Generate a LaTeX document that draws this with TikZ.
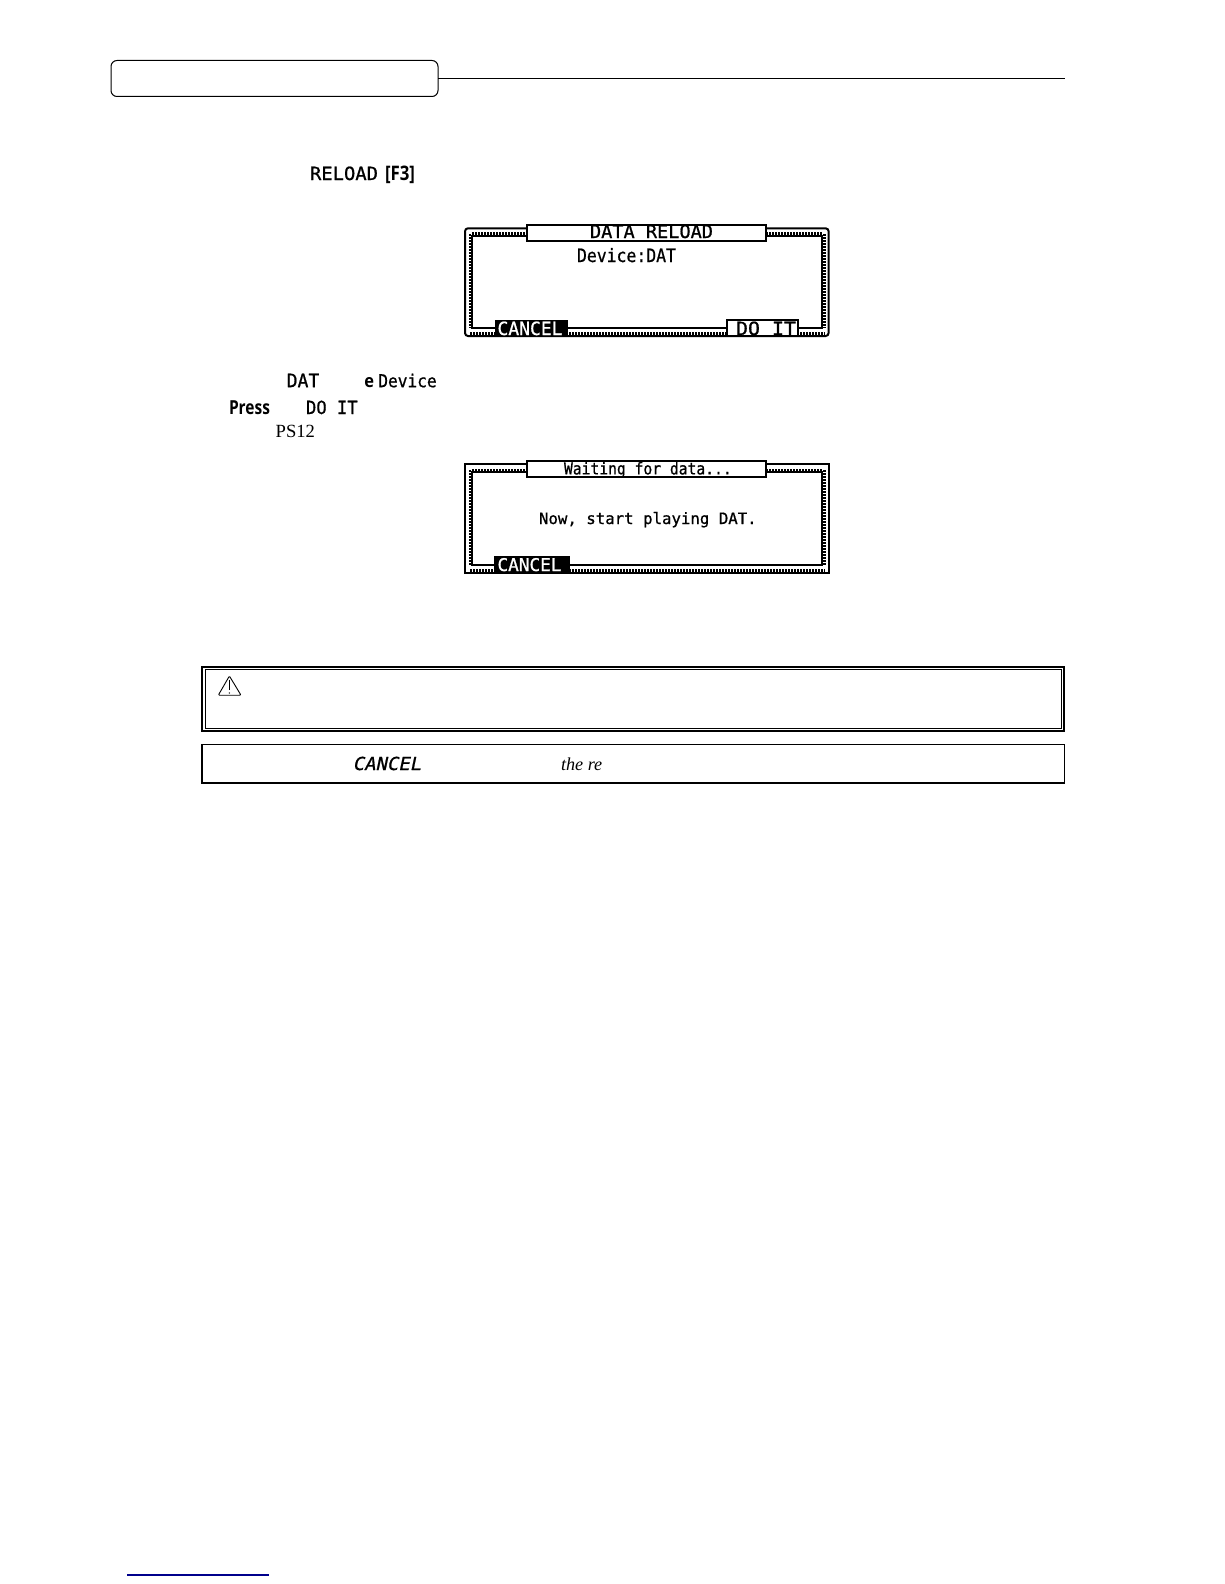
\documentclass[tikz,border=0pt]{standalone}
\usepackage{graphicx}
\usepackage{fontspec}
\setmainfont{Liberation Serif}
\newfontfamily\lcdf[FakeBold=0.8]{DejaVu Sans Mono}
\newfontfamily\lcdi[FakeSlant=0.2,FakeBold=0.8]{DejaVu Sans Mono}
\newfontfamily\labf[BoldFont={Open Sans Bold}]{Open Sans}
\newcommand\lcdtxt[3]{\resizebox{#1pt}{#2pt}{\lcdf #3}}
\newcommand\labtxt[3]{\resizebox{#1pt}{#2pt}{\labf\bfseries #3}}
\tikzset{
  every node/.style={inner sep=0pt,outer sep=0pt},
  txt/.style={anchor=base west},
  lcdline/.style={draw=black,line width=2pt},
  teeth/.style={draw=black,line width=2.6pt,dash pattern=on 1.5pt off 1.5pt},
  titlebox/.style={draw=black,fill=white,line width=2pt,anchor=north west,minimum width=238.5pt,minimum height=16pt},
  softkey/.style={draw=black,fill=black,line width=0.5pt,anchor=north west},
  softbox/.style={draw=black,fill=white,line width=2pt,anchor=north west},
  warn/.style={draw=black,line width=0.9pt,line join=round},
  rule/.style={draw=black,line width=1pt}
}
\begin{document}
\begin{tikzpicture}[x=1pt,y=-1pt]
\useasboundingbox (0,0) rectangle (1224,1584);
\fill[white] (0,0) rectangle (1224,1584);

% header tab and rule
\node[draw=black,line width=1pt,rounded corners=6pt,anchor=north west,minimum width=327pt,minimum height=36pt] (hdr) at (111,60.5) {};
\coordinate (hdrend) at (1065,78.5);
\draw[rule] (hdr.east) -- (hdrend);

% first line
\node[txt] (reload) at (310,180) {\lcdtxt{68}{13.5}{RELOAD}};
\node[txt] (f3) at (385,180) {\labtxt{30}{14.5}{[F3]}};

% LCD 1
\draw[lcdline,rounded corners=3pt] (465,228.3) rectangle (828.6,336);
\draw[lcdline] (472,236) rectangle (821.6,328);
\draw[teeth] (472,233.6) -- (822,233.6);
\draw[teeth] (470,234) -- (470,328);
\draw[teeth] (824.6,234) -- (824.6,328);
\draw[teeth] (470,333.4) -- (825,333.4);
\node[titlebox] (t1) at (527,224.8) {};
\node[txt] at (590,238) {\lcdtxt{123}{13.5}{DATA RELOAD}};
\node[txt] at (577,262) {\lcdtxt{99}{14}{Device:DAT}};
\node[softkey,minimum width=72pt,minimum height=16.5pt] (c1) at (495,320) {};
\node[txt,text=white] at (497.5,335) {\lcdtxt{65}{13.5}{CANCEL}};
\node[softbox,minimum width=71pt,minimum height=15.5pt] (d1) at (727,320.4) {};
\node[txt] at (736,335) {\lcdtxt{60}{13.5}{DO IT}};

% middle text
\node[txt] at (286.7,387.2) {\lcdtxt{32.6}{13.5}{DAT}};
\node[txt] at (364.3,387.2) {\labtxt{9.7}{10}{e}};
\node[txt] at (378.3,387.2) {\lcdtxt{58.4}{13.5}{Device}};
\node[txt] at (229,414) {\labtxt{41}{13.8}{Press}};
\node[txt] at (306,414) {\lcdtxt{51.7}{13.5}{DO IT}};
\node[txt] at (275.7,437.3) {\fontsize{18.6}{20}\selectfont PS12};

% LCD 2
\draw[lcdline] (465,464) rectangle (828.6,573);
\draw[lcdline] (472,472.4) rectangle (821.6,565);
\draw[teeth] (472,470) -- (822,470);
\draw[teeth] (470,470) -- (470,566);
\draw[teeth] (824.6,470) -- (824.6,566);
\draw[teeth] (470,570.4) -- (825,570.4);
\node[titlebox] (t2) at (527,460.6) {};
\node[txt] at (564,474.4) {\lcdtxt{167.7}{12.5}{Waiting for data...}};
\node[txt] at (539,524) {\lcdtxt{217.7}{12}{Now, start playing DAT.}};
\node[softkey,minimum width=75pt,minimum height=17.5pt] (c2) at (494,556) {};
\node[txt,text=white] at (497.5,571) {\lcdtxt{64}{13}{CANCEL}};

% warning box
\draw[black,line width=2pt] (202,667.2) rectangle (1064.4,730.6);
\draw[black,line width=0.9pt] (205,669.8) rectangle (1061.8,728.2);
\draw[warn,rounded corners=1pt] (229.4,676) -- (241,695.2) -- (218.3,695.2) -- cycle;
\draw[warn] (229.4,679.5) -- (229.4,690);
\fill[black] (229.4,693) circle (0.7pt);

% note box
\draw[black,line width=1.5pt] (202,744.6) rectangle (1064.4,783.2);
\node[txt] at (352.7,770) {\resizebox{68.3pt}{13.3pt}{\lcdi CANCEL}};
\node[txt] at (561,770) {\fontsize{18.2}{20}\selectfont\itshape the re};

% blue rule
\coordinate (blueA) at (127,1575);
\coordinate (blueB) at (268.7,1575);
\draw[color={rgb,255:red,0;green,0;blue,140},line width=1.1pt] (blueA) -- (blueB);
\end{tikzpicture}
\end{document}
